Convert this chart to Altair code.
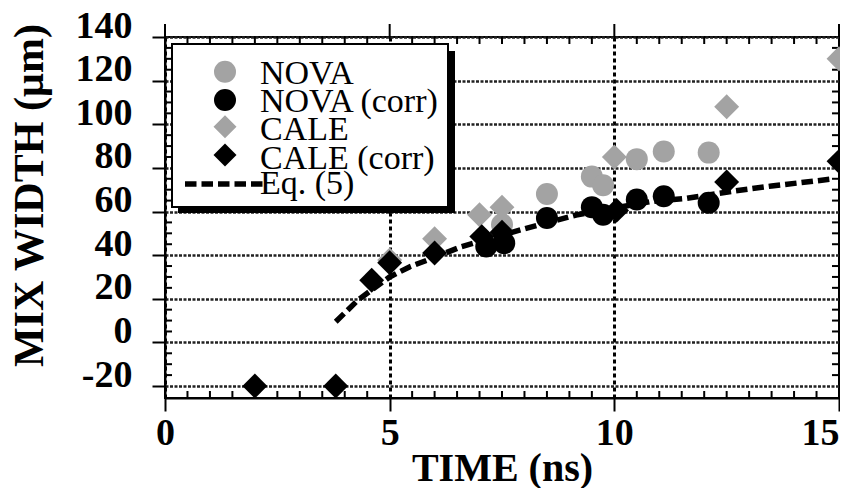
import altair as alt
import pandas as pd

# ---- data ----
nova_t = [7.5, 8.5, 9.5, 9.75, 10.5, 11.1, 12.1]
nova_v = [54, 68, 76, 72, 84, 87.5, 87]
nova_corr_t = [7.15, 7.55, 8.5, 9.5, 9.75, 10.5, 11.1, 12.1]
nova_corr_v = [44, 45.5, 57, 62, 58.5, 65.5, 67, 64]
cale_t = [5.0, 6.0, 7.0, 7.5, 10.0, 12.5, 15.0]
cale_v = [37.8, 47.5, 58.5, 62, 85, 108, 130]
cale_corr_t = [2.0, 3.8, 4.6, 5.0, 6.0, 7.05, 7.5, 10.05, 12.5, 15.0]
cale_corr_v = [-20, -20, 28.5, 36.5, 41, 48.5, 50.5, 60.5, 73.5, 83]
eq_t = [3.8, 4.3, 5.0, 5.45, 5.85, 6.6, 7.95, 9.15, 10.8, 11.6, 12.7, 13.5, 14.85]
eq_v = [9.5, 19.5, 30, 34.7, 37.8, 43.9, 51.8, 58.4, 64.5, 66, 69.5, 71.7, 74.9]

series_names = ["NOVA", "NOVA (corr)", "CALE", "CALE (corr)"]
series_colors = ["#a3a3a3", "black", "#a3a3a3", "black"]
series_shapes = ["circle", "circle", "diamond", "diamond"]
eq_label = "Eq. (5)"

x_major = [0, 5, 10, 15]
y_major = [-20, 0, 20, 40, 60, 80, 100, 120, 140]
x_minor = [i * 0.5 for i in range(1, 30) if i % 10]
y_minor = [v for v in range(-15, 140, 5) if v % 20]

# ---- layout ----
W, H = 674, 361
FONT = "Liberation Serif"
LEG_SYM_X = 60
LEG_SYM_Y = [34.7, 63, 89.7, 118]
LEG_TXT_X = 95
LEG_TXT_Y = [46.5, 75, 103, 132, 157]
LEG_LINE = (20, 98, 147)


def frame(ts, vs, name):
    return pd.DataFrame({"t": ts, "v": vs, "series": name})


circles = pd.concat([frame(nova_t, nova_v, "NOVA"),
                     frame(nova_corr_t, nova_corr_v, "NOVA (corr)")])
diamonds = pd.concat([frame(cale_t, cale_v, "CALE"),
                      frame(cale_corr_t, cale_corr_v, "CALE (corr)")])
eq = pd.DataFrame({"t": eq_t, "v": eq_v})

xs = alt.Scale(domain=[0, 15], nice=False, zero=False)
ys = alt.Scale(domain=[-25.5, 140], nice=False, zero=False)

X = alt.X("t:Q", scale=xs, title="TIME (ns)",
          axis=alt.Axis(values=x_major, format="d", labelFont=FONT, labelFontWeight="bold",
                        labelFontSize=38, labelColor="black", labelPadding=3, labelFlush=False,
                        labelAlign={"condition": {"test": "datum.value >= 15", "value": "right"},
                                    "value": "center"},
                        tickSize=13, tickWidth=2, tickColor="black",
                        domainColor="black", domainWidth=2,
                        grid=True, gridColor="black", gridWidth=3, gridDash=[4, 3],
                        titleFont=FONT, titleFontSize=40, titleFontWeight="bold",
                        titleColor="black", titleBaseline="alphabetic", titleY=82))
Y = alt.Y("v:Q", scale=ys, title="MIX WIDTH (µm)",
          axis=alt.Axis(values=y_major, labelFont=FONT, labelFontWeight="bold",
                        labelExpr="datum.value < 0 ? '-' + (-datum.value) : '' + datum.value",
                        labelFontSize=38, labelColor="black", labelPadding=20,
                        labelBaseline="alphabetic", labelFlush=False,
                        tickSize=13, tickWidth=2, tickColor="black",
                        domainColor="black", domainWidth=2,
                        grid=True, gridColor="#222222", gridWidth=2.5, gridDash=[3, 1.5],
                        titleFont=FONT, titleFontSize=42, titleFontWeight="bold",
                        titleColor="black", titleAngle=270, titleAlign="center",
                        titleBaseline="alphabetic", titleX=-123, titleY=158))

color = alt.Color("series:N", scale=alt.Scale(domain=series_names, range=series_colors),
                  legend=None)
shape = alt.Shape("series:N", scale=alt.Scale(domain=series_names, range=series_shapes),
                  legend=None)

one = alt.Data(values=[{"a": 1}])

shadow = alt.Chart(one).mark_rect(color="black").encode(
    x=alt.value(13), x2=alt.value(290), y=alt.value(14), y2=alt.value(176))
box = alt.Chart(one).mark_rect(fill="white", stroke="black", strokeWidth=2).encode(
    x=alt.value(7), x2=alt.value(283), y=alt.value(7), y2=alt.value(170))

line = alt.Chart(eq).mark_line(color="black", strokeWidth=5.5, strokeCap="butt",
                               strokeDash=[11.5, 5]).encode(x=X, y=Y)

pts_c = alt.Chart(circles).mark_point(filled=True, size=484, opacity=1, strokeWidth=0).encode(
    x=X, y=Y, color=color, shape=shape)
pts_d = alt.Chart(diamonds).mark_point(filled=True, size=620, opacity=1, strokeWidth=0).encode(
    x=X, y=Y, color=color, shape=shape)

# legend entries (symbols go through the same colour / shape scales)
legend_layers = []
for i, name in enumerate(series_names):
    d = alt.Data(values=[{"series": name}])
    sz = 484 if series_shapes[i] == "circle" else 529
    legend_layers.append(alt.Chart(d).mark_point(filled=True, size=sz, opacity=1, strokeWidth=0).encode(
        x=alt.value(LEG_SYM_X), y=alt.value(LEG_SYM_Y[i]), color=color, shape=shape))
    legend_layers.append(alt.Chart(d).mark_text(font=FONT, fontSize=34, color="black",
                                                align="left", baseline="alphabetic").encode(
        x=alt.value(LEG_TXT_X), y=alt.value(LEG_TXT_Y[i]), text="series:N"))
legend_layers.append(alt.Chart(one).mark_rule(color="black", strokeWidth=5.5, strokeCap="butt",
                                              strokeDash=[11.5, 5]).encode(
    x=alt.value(LEG_LINE[0]), x2=alt.value(LEG_LINE[1]), y=alt.value(LEG_LINE[2])))
legend_layers.append(alt.Chart(alt.Data(values=[{"label": eq_label}])).mark_text(
    font=FONT, fontSize=34, color="black", align="left", baseline="alphabetic").encode(
    x=alt.value(LEG_TXT_X), y=alt.value(LEG_TXT_Y[4]), text="label:N"))

rule = dict(color="black", strokeWidth=2)
top_major = alt.Chart(pd.DataFrame({"t": x_major})).mark_rule(**rule).encode(
    x=X, y=alt.value(-13), y2=alt.value(0))
right_major = alt.Chart(pd.DataFrame({"v": y_major[:-1]})).mark_rule(**rule).encode(
    y=Y, x=alt.value(W), x2=alt.value(W + 13))
bottom_minor = alt.Chart(pd.DataFrame({"t": x_minor})).mark_rule(**rule).encode(
    x=X, y=alt.value(H - 7), y2=alt.value(H))
top_minor = alt.Chart(pd.DataFrame({"t": x_minor})).mark_rule(**rule).encode(
    x=X, y=alt.value(0), y2=alt.value(7))
left_minor = alt.Chart(pd.DataFrame({"v": y_minor})).mark_rule(**rule).encode(
    y=Y, x=alt.value(0), x2=alt.value(7))
right_minor = alt.Chart(pd.DataFrame({"v": y_minor})).mark_rule(**rule).encode(
    y=Y, x=alt.value(W - 7), x2=alt.value(W))

chart = alt.layer(
    bottom_minor, top_minor, left_minor, right_minor, top_major, right_major,
    line, pts_c, pts_d, shadow, box, *legend_layers
).properties(
    width=W, height=H,
    padding={"left": 157, "top": 29, "right": 1, "bottom": 90},
    autosize=alt.AutoSizeParams(type="none"),
    background="white",
).configure_view(stroke="black", strokeWidth=2)

chart.save("out.html", embed_options={"renderer": "svg", "actions": False})
